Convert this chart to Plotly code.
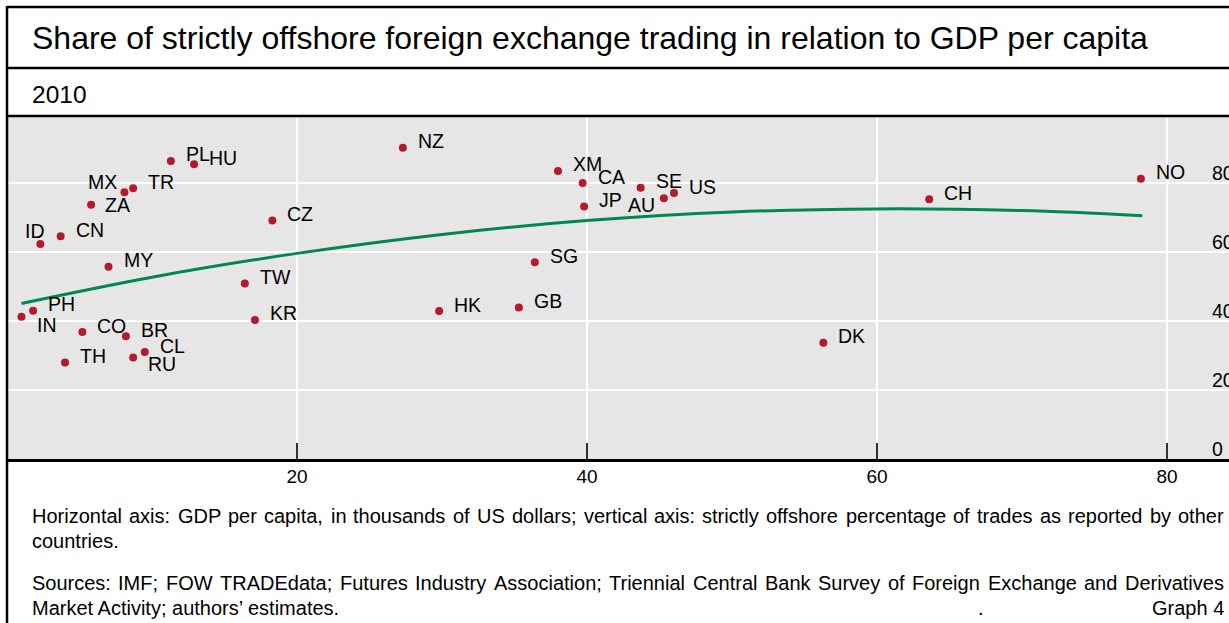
import plotly.graph_objects as go

# ---------------- data ----------------
codes = ["PL", "HU", "MX", "TR", "ZA", "CZ", "ID", "CN", "MY", "TW", "PH", "IN", "KR", "CO",
         "BR", "CL", "RU", "TH", "NZ", "XM", "CA", "JP", "SE", "AU", "US", "SG", "GB", "HK",
         "NO", "CH", "DK"]
gdp_per_capita = [11.3, 12.9, 8.1, 8.7, 5.8, 18.3, 2.3, 3.7, 7.0, 16.4, 1.8, 1.0, 17.1, 5.2,
                  8.2, 9.5, 8.7, 4.0, 27.3, 38.0, 39.7, 39.8, 43.7, 45.3, 46.0, 36.4, 35.3, 29.8,
                  78.2, 63.6, 56.3]
offshore_share = [86.4, 85.4, 77.3, 78.5, 73.7, 69.1, 62.3, 64.6, 55.7, 50.9, 43.0, 41.2, 40.3, 36.8,
                  35.6, 31.0, 29.4, 28.0, 90.2, 83.5, 80.0, 73.2, 78.6, 75.6, 77.1, 57.0, 43.9, 42.9,
                  81.2, 75.3, 33.7]

trend_x = [1, 10, 20, 30, 40, 50, 60, 70, 78.3]
trend_y = [45.1, 52.7, 59.6, 65.1, 69.1, 71.6, 72.5, 72.0, 70.5]

x_ticks = [20, 40, 60, 80]
x_tick_labels = ["20", "40", "60", "80"]
y_ticks = [0, 20, 40, 60, 80]
y_tick_labels = ["0", "20", "40", "60", "80"]

title_text = "Share of strictly offshore foreign exchange trading in relation to GDP per capita"
subtitle_text = "2010"
note_lines = [
    "Horizontal axis: GDP per capita, in thousands of US dollars; vertical axis: strictly offshore percentage of trades as reported by other",
    "countries.",
    "Sources: IMF; FOW TRADEdata; Futures Industry Association; Triennial Central Bank Survey of Foreign Exchange and Derivatives",
    "Market Activity; authors’ estimates.",
]
note_justified = [True, False, True, False]
graph_label = "Graph 4"

# ---------------- style ----------------
W, H = 1229, 623
L, T, B = 7, 117, 164
PLOT_W = W - L
PLOT_H = H - T - B
PX_PER_X = 14.5
PX_PER_Y = 3.45
FONT = "Liberation Sans, Arial, Helvetica, sans-serif"
RED = "#b31b2c"
GREEN = "#00874d"
BG = "#e6e6e6"
NOTE_SIZE = 20

# Arial / Liberation Sans advance widths (1/1000 em) for laying out justified note lines
ARIAL = {" ": 278, ",": 278, ".": 278, ":": 278, ";": 278, "’": 222, "'": 191, "-": 333}
ARIAL.update({d: 556 for d in "0123456789"})
ARIAL.update(dict(zip("ABCDEFGHIJKLMNOPQRSTUVWXYZ",
                      [667, 667, 722, 722, 667, 611, 778, 722, 278, 500, 667, 556, 833, 722, 778,
                       667, 778, 722, 667, 611, 722, 667, 944, 667, 667, 611])))
ARIAL.update(dict(zip("abcdefghijklmnopqrstuvwxyz",
                      [556, 556, 500, 556, 556, 278, 556, 556, 222, 222, 500, 222, 833, 556, 556,
                       556, 556, 333, 500, 278, 556, 500, 722, 500, 500, 500])))


def text_w(s, size):
    return sum(ARIAL.get(ch, 556) for ch in s) * size / 1000.0


def px_x(px):
    return (px - L) / PLOT_W


def px_y(py):
    return (H - B - py) / PLOT_H


# label placement: (xanchor, xshift, yshift)
default_place = ("left", 13, 6.5)
label_place = {
    "MX": ("right", -5, 10),
    "ID": ("right", 7, 13),
    "IN": ("left", 13, -8),
    "RU": ("left", 13, -6.5),
    "AU": ("right", -7, -7),
    "ZA": ("left", 12, -0.5),
}

fig = go.Figure()
fig.add_trace(go.Scatter(x=trend_x, y=trend_y, mode="lines",
                         line=dict(color=GREEN, width=3, shape="spline"),
                         hoverinfo="skip", showlegend=False))
fig.add_trace(go.Scatter(x=gdp_per_capita, y=offshore_share, mode="markers", text=codes,
                         marker=dict(color=RED, size=8), showlegend=False))

annotations = []
for c, xv, yv in zip(codes, gdp_per_capita, offshore_share):
    anc, xs, ys = label_place.get(c, default_place)
    annotations.append(dict(x=xv, y=yv, xref="x", yref="y", text=c, showarrow=False,
                            xanchor=anc, yanchor="middle", xshift=xs, yshift=ys,
                            font=dict(family=FONT, size=19.5, color="#000000")))

# right-hand y tick labels (partly cut off at the page edge, as in the original)
for v, lab in zip(y_ticks, y_tick_labels):
    annotations.append(dict(x=px_x(1210), y=v, xref="paper", yref="y", text=lab, showarrow=False,
                            xanchor="left", yanchor="middle", yshift=10,
                            font=dict(family=FONT, size=19.5, color="#000000")))

annotations.append(dict(x=px_x(30), y=px_y(38), xref="paper", yref="paper", text=title_text,
                        showarrow=False, xanchor="left", yanchor="middle",
                        font=dict(family=FONT, size=32, color="#000000")))
annotations.append(dict(x=px_x(30), y=px_y(95), xref="paper", yref="paper", text=subtitle_text,
                        showarrow=False, xanchor="left", yanchor="middle",
                        font=dict(family=FONT, size=24.5, color="#000000")))

NOTE_X0, NOTE_X1 = 32, 1224
for line, py, just in zip(note_lines, [516, 541, 583, 608], note_justified):
    if just:
        words = line.split(" ")
        widths = [text_w(w, NOTE_SIZE) for w in words]
        gap = (NOTE_X1 - NOTE_X0 - sum(widths)) / (len(words) - 1)
        xpos = NOTE_X0
        for w, ww in zip(words, widths):
            annotations.append(dict(x=px_x(xpos - 2), y=px_y(py), xref="paper", yref="paper",
                                    text=w, showarrow=False, xanchor="left", yanchor="middle",
                                    font=dict(family=FONT, size=NOTE_SIZE, color="#000000")))
            xpos += ww + gap
    else:
        annotations.append(dict(x=px_x(NOTE_X0 - 2), y=px_y(py), xref="paper", yref="paper",
                                text=line, showarrow=False, xanchor="left", yanchor="middle",
                                font=dict(family=FONT, size=NOTE_SIZE, color="#000000")))
annotations.append(dict(x=px_x(981), y=px_y(608), xref="paper", yref="paper", text=".",
                        showarrow=False, xanchor="center", yanchor="middle",
                        font=dict(family=FONT, size=NOTE_SIZE, color="#000000")))
annotations.append(dict(x=px_x(1226), y=px_y(608), xref="paper", yref="paper", text=graph_label,
                        showarrow=False, xanchor="right", yanchor="middle",
                        font=dict(family=FONT, size=NOTE_SIZE, color="#000000")))

shapes = [
    # frame: left edge, top, title separator, plot top
    dict(type="line", xref="paper", yref="paper", x0=0, x1=0, y0=px_y(H + 2), y1=px_y(6),
         line=dict(color="black", width=2.5)),
    dict(type="line", xref="paper", yref="paper", x0=0, x1=1.01, y0=px_y(7), y1=px_y(7),
         line=dict(color="black", width=2.5)),
    dict(type="line", xref="paper", yref="paper", x0=0, x1=1.01, y0=px_y(68), y1=px_y(68),
         line=dict(color="black", width=2.5)),
    dict(type="line", xref="paper", yref="paper", x0=0, x1=1.01, y0=px_y(116), y1=px_y(116),
         line=dict(color="black", width=2.5)),
]

fig.update_layout(
    width=W, height=H,
    margin=dict(l=L, r=0, t=T, b=B, pad=0),
    paper_bgcolor="white", plot_bgcolor=BG,
    font=dict(family=FONT, size=18, color="black"),
    annotations=annotations, shapes=shapes,
    showlegend=False,
    xaxis=dict(range=[0, PLOT_W / PX_PER_X], tickvals=x_ticks, ticktext=x_tick_labels,
               showgrid=True, gridcolor="white", gridwidth=1.5, zeroline=False,
               showline=True, linecolor="black", linewidth=2.5,
               ticks="inside", ticklen=16, tickwidth=1.5, tickcolor="#333333",
               ticklabelstandoff=-2,
               tickfont=dict(family=FONT, size=19, color="black")),
    yaxis=dict(range=[0, PLOT_H / PX_PER_Y], tickvals=y_ticks, showticklabels=False,
               showgrid=True, gridcolor="white", gridwidth=1.5, zeroline=False,
               showline=False, ticks=""),
)

fig.write_html("out.html", config={"displayModeBar": False},
               post_script="document.body.style.margin='0px';document.body.style.overflow='hidden';")
